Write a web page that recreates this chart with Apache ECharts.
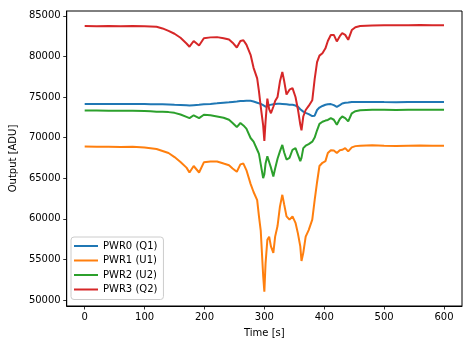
<!DOCTYPE html>
<html>
<head>
<meta charset="utf-8">
<script src="https://cdn.jsdelivr.net/npm/echarts@6/dist/echarts.min.js"></script>
<style>html,body{margin:0;padding:0;background:#fff}#c{width:473px;height:347px}</style>
</head>
<body>
<div id="c"></div>
<script>
const times = [0,20,40,60,80,100,110,120,130,140,150,160,170,175,182,191,199,210,221,232,241,247,254,260,265,270,277,282,288,291,294,298,300,302,305,308,311,315,318,322,326,330,333,337,342,347,352,356,360,362,365,369,374,380,384,388,392,397,402,406,411,416,421,426,430,435,440,446,452,460,480,500,520,540,560,580,600];

const pwr0 = [74150,74150,74130,74150,74140,74130,74120,74100,74100,74080,74050,74030,73980,73950,74000,74050,74100,74150,74220,74300,74350,74400,74450,74500,74520,74550,74530,74450,74300,74250,74150,74000,73850,73800,73900,74000,74050,74100,74150,74160,74160,74150,74150,74100,74050,74040,73950,73800,73500,73400,73200,73050,72900,72650,72700,73400,73700,73900,74050,74120,74130,74000,73780,74000,74200,74300,74330,74380,74400,74380,74400,74380,74370,74400,74380,74400,74380];

const pwr1 = [68900,68880,68870,68850,68880,68780,68700,68600,68350,68100,67600,67000,66300,65700,66500,65700,66950,67050,67060,66800,66600,66200,65800,66700,66800,66000,64300,63300,62300,60300,58500,53000,51000,54500,57400,57800,56600,55800,57800,59100,61500,62950,61800,60300,59900,60300,59500,58200,56600,54800,55800,57800,58600,59900,62300,64500,66500,66900,67100,68100,68450,68400,68100,68450,68500,68700,68300,68800,68950,69000,69050,69000,68980,69000,69020,68990,69000];

const pwr2 = [73350,73340,73320,73300,73300,73280,73250,73200,73180,73140,73050,72850,72550,72400,72750,72400,72820,72750,72600,72450,72200,71800,71300,71800,71500,71100,69950,69500,68500,68000,66700,65000,65500,66800,67700,67000,66300,65200,66200,67400,68300,69100,68200,67300,67500,68500,68700,67900,67100,67500,68700,69000,69200,69500,70000,70900,71700,71950,72100,72180,72400,72200,71580,72300,72600,72400,72000,73000,73250,73380,73420,73420,73400,73420,73430,73420,73420];

const pwr3 = [83750,83720,83760,83730,83750,83720,83700,83650,83450,83150,82800,82300,81600,81200,81900,81350,82250,82350,82380,82250,82100,81700,81100,81900,82000,81450,80200,78600,77300,75700,73800,71500,69600,72000,74800,73500,73000,73800,74500,75000,76900,78100,77000,75300,75900,76100,75000,73500,71600,70900,72600,73400,73900,74600,77200,79300,80100,80400,81000,81900,82650,82650,81850,82500,82870,82660,82050,83250,83600,83750,83820,83850,83840,83850,83860,83840,83850];

const seriesNames = ['PWR0 (Q1)','PWR1 (U1)','PWR2 (U2)','PWR3 (Q2)'];
const seriesValues = [pwr0, pwr1, pwr2, pwr3];
const colors = ['#1f77b4','#ff7f0e','#2ca02c','#d62728'];
const xTicks = [0,100,200,300,400,500,600];
const yTicks = [50000,55000,60000,65000,70000,75000,80000,85000];

const font = 'DejaVu Sans';
const chart = echarts.init(document.getElementById('c'), null, {renderer:'canvas'});
chart.setOption({
  animation: false,
  backgroundColor: '#fff',
  textStyle: {fontFamily: font},
  grid: {left: 66, right: 11, top: 11, bottom: 41, show: true, borderColor: '#000', borderWidth: 1, containLabel: false},
  xAxis: {
    type: 'value', min: -30, max: 630,
    name: 'Time [s]', nameLocation: 'middle', nameGap: 22,
    nameTextStyle: {fontFamily: font, fontSize: 10, color: '#000'},
    axisLine: {show: true, onZero: false, lineStyle: {color: '#000', width: 1}},
    axisTick: {show: true, length: 3.5, customValues: xTicks, lineStyle: {color: '#000', width: 0.8}},
    axisLabel: {customValues: xTicks, fontFamily: font, fontSize: 10, color: '#000', margin: 6, formatter: v => String(v)},
    splitLine: {show: false}
  },
  yAxis: {
    type: 'value', min: 49250, max: 85600,
    name: 'Output [ADU]', nameLocation: 'middle', nameGap: 48,
    nameTextStyle: {fontFamily: font, fontSize: 10, color: '#000'},
    axisLine: {show: true, onZero: false, lineStyle: {color: '#000', width: 1}},
    axisTick: {show: true, length: 3.5, customValues: yTicks, lineStyle: {color: '#000', width: 0.8}},
    axisLabel: {customValues: yTicks, fontFamily: font, fontSize: 10, color: '#000', margin: 6, formatter: v => String(v)},
    splitLine: {show: false}
  },
  legend: {
    orient: 'vertical', left: 71, top: 237,
    icon: 'rect', itemWidth: 24, itemHeight: 2, itemGap: 4.5, itemTextGap: 8,
    padding: [4, 6, 5, 3],
    borderColor: '#ccc', borderWidth: 1, borderRadius: 3, backgroundColor: 'rgba(255,255,255,0.8)',
    textStyle: {fontFamily: font, fontSize: 10, color: '#000'},
    data: seriesNames
  },
  series: seriesNames.map((n, i) => ({
    name: n, type: 'line', showSymbol: false, symbol: 'none',
    data: times.map((t, j) => [t, seriesValues[i][j]]),
    lineStyle: {color: colors[i], width: 2},
    itemStyle: {color: colors[i]}
  }))
});
</script>
</body>
</html>
